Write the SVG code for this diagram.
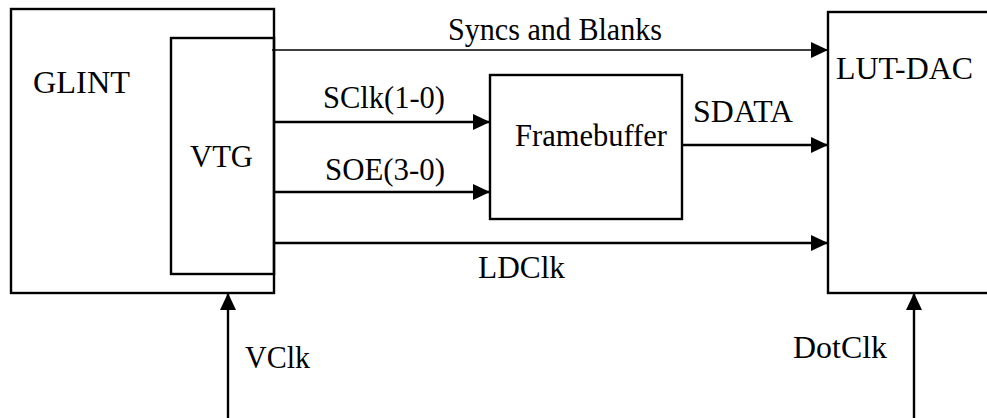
<svg xmlns="http://www.w3.org/2000/svg" width="987" height="418" viewBox="0 0 987 418">
<style>
.box{fill:none;stroke:#000;stroke-width:2.4}
.ln{stroke:#000;stroke-width:2.4;fill:none}
.thin{stroke:#000;stroke-width:1.5;fill:none}
.t{font-family:'Liberation Serif','Times New Roman',serif;font-size:31px;fill:#000}
</style>
<defs>
<marker id="ah" markerUnits="userSpaceOnUse" markerWidth="18" markerHeight="16" refX="17" refY="8" orient="auto">
<path d="M0,0 L17,8 L0,16 Z" fill="#000"/>
</marker>
</defs>
<rect width="987" height="418" fill="#fff"/>
<g id="glint">
<rect class="box" x="11" y="9" width="263" height="284"/>
<text class="t" x="33" y="93" textLength="97" lengthAdjust="spacingAndGlyphs">GLINT</text>
</g>
<g id="vtg">
<rect class="box" x="171" y="38" width="103" height="236"/>
<text class="t" x="190" y="167" textLength="63" lengthAdjust="spacingAndGlyphs">VTG</text>
</g>
<g id="framebuffer">
<rect class="box" x="490" y="75" width="192" height="144"/>
<text class="t" x="515" y="146" textLength="152" lengthAdjust="spacingAndGlyphs">Framebuffer</text>
</g>
<g id="lutdac">
<rect class="box" x="828" y="12" width="170" height="281"/>
<text class="t" x="836" y="79" textLength="137" lengthAdjust="spacingAndGlyphs">LUT-DAC</text>
</g>
<g id="connectors">
<line class="thin" x1="272" y1="50" x2="828" y2="50" marker-end="url(#ah)"/>
<line class="ln" x1="274" y1="122" x2="490" y2="122" marker-end="url(#ah)"/>
<line class="ln" x1="274" y1="192" x2="490" y2="192" marker-end="url(#ah)"/>
<line class="ln" x1="682" y1="145" x2="828" y2="145" marker-end="url(#ah)"/>
<line class="ln" x1="274" y1="243" x2="828" y2="243" marker-end="url(#ah)"/>
<line class="ln" x1="228" y1="418" x2="228" y2="293" marker-end="url(#ah)"/>
<line class="ln" x1="914" y1="418" x2="914" y2="293" marker-end="url(#ah)"/>
<text class="t" x="448" y="40" textLength="214" lengthAdjust="spacingAndGlyphs">Syncs and Blanks</text>
<text class="t" x="323" y="108" textLength="122" lengthAdjust="spacingAndGlyphs">SClk(1-0)</text>
<text class="t" x="325" y="180" textLength="120" lengthAdjust="spacingAndGlyphs">SOE(3-0)</text>
<text class="t" x="693" y="122" textLength="100" lengthAdjust="spacingAndGlyphs">SDATA</text>
<text class="t" x="478" y="278" textLength="87" lengthAdjust="spacingAndGlyphs">LDClk</text>
<text class="t" x="245" y="368" textLength="65" lengthAdjust="spacingAndGlyphs">VClk</text>
<text class="t" x="793" y="358" textLength="94" lengthAdjust="spacingAndGlyphs">DotClk</text>
</g>
</svg>
